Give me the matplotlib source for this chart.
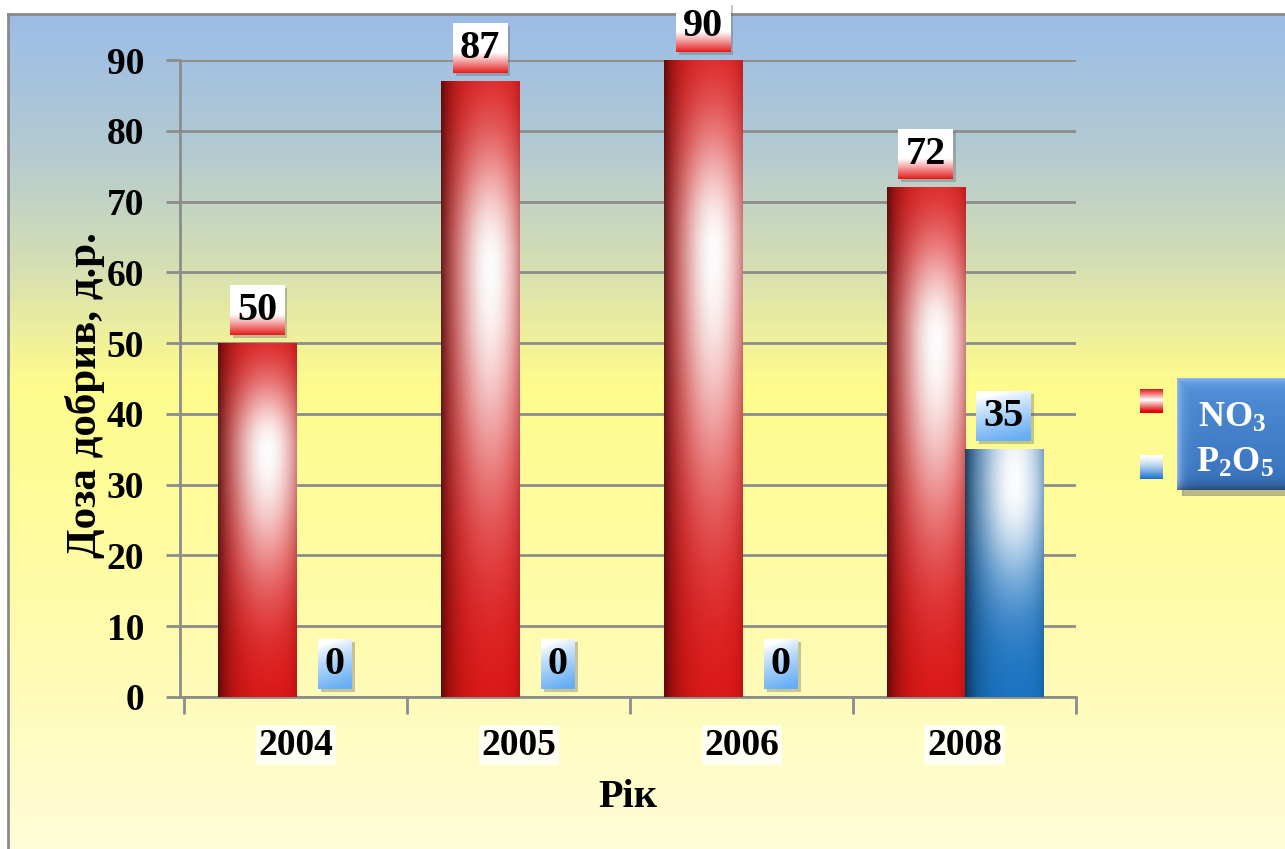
import matplotlib
matplotlib.use("Agg")
import matplotlib.pyplot as plt
import numpy as np
from matplotlib.colors import LinearSegmentedColormap
from matplotlib.patches import Rectangle

plt.rcParams['font.family'] = ['Liberation Serif', 'DejaVu Serif']
plt.rcParams['font.weight'] = 'bold'
plt.rcParams['axes.labelweight'] = 'bold'
plt.rcParams['mathtext.fontset'] = 'custom'
plt.rcParams['mathtext.rm'] = 'Liberation Serif:bold'
plt.rcParams['mathtext.bf'] = 'Liberation Serif:bold'
plt.rcParams['mathtext.it'] = 'Liberation Serif:bold'

years = ['2004', '2005', '2006', '2008']
no3 = [50, 87, 90, 72]
p2o5 = [0, 0, 0, 35]
series_names = [r'$\mathrm{NO_3}$', r'$\mathrm{P_2O_5}$']
y_label = 'Доза добрив, д.р.'
x_label = 'Рік'

W, H = 1285, 849
fig = plt.figure(figsize=(W / 100, H / 100), dpi=100)


# ---- background panel with vertical gradient ----
bg = fig.add_axes([8 / W, -0.01, 1.0, 1 - 14 / H + 0.01], zorder=0)
bg_cmap = LinearSegmentedColormap.from_list('bg', [
    (0.0, '#9bbce6'), (0.16, '#b3cad2'), (0.30, '#d6dfb2'),
    (0.44, '#fffc8c'), (0.70, '#fefba9'), (1.0, '#fefdd8')])
bg.imshow(np.linspace(0, 1, 256).reshape(-1, 1), cmap=bg_cmap,
          aspect='auto', extent=(0, 1, 0, 1))
bg.set_xticks([])
bg.set_yticks([])
for s in bg.spines.values():
    s.set_color('#8a8a8a')
    s.set_linewidth(2)


def cylinder(kind, nx=80, ny=300):
    u = np.linspace(0, 1, nx)[None, :]
    v = np.linspace(1, 0, ny)[:, None]
    if kind == 'red':
        base = np.array([0.86, 0.07, 0.07])
        gv, lo, hi = 0.70, 0.38, 0.21
    else:
        base = np.array([0.10, 0.45, 0.76])
        gv, lo, hi = 0.86, 0.42, 0.60
    wv = np.where(v < gv, np.exp(-((v - gv) / lo) ** 2),
                  np.exp(-((v - gv) / hi) ** 2))
    wh = np.exp(-((u - 0.62) / 0.5) ** 2)
    w = (wv * wh)[..., None]
    col = base * (1 - w) + w
    shade = 1 - 0.55 * np.exp(-u / 0.15) - 0.15 * np.exp(-(1 - u) / 0.07)
    col = col * shade[..., None]
    return np.clip(col, 0, 1)


def label_box(kind, nx=40, ny=60):
    u = np.linspace(0, 1, nx)[None, :]
    v = np.linspace(1, 0, ny)[:, None]
    if kind == 'red':
        tip = np.array([0.90, 0.12, 0.12])
        t = np.clip((0.42 - v) / 0.42, 0, 1) ** 1.1 + 0 * u
    else:
        tip = np.array([0.40, 0.68, 0.96])
        t = np.clip(1.1 - v - 0.25 * (1 - u), 0, 1) ** 0.8
    t = t[..., None]
    return np.clip((1 - t) + t * tip, 0, 1)


# ---- main chart ----
ax = fig.add_axes([180 / W, 1 - 697 / H, 896 / W, 637 / H], zorder=2)
ax.patch.set_visible(False)
x = np.arange(len(years))
bw = 0.35
bars_no3 = ax.bar(x - bw / 2, no3, bw, color='none', zorder=3)
bars_p2o5 = ax.bar(x + bw / 2, p2o5, bw, color='none', zorder=3)
ax.set_xlim(-0.52, 3.5)
ax.set_ylim(0, 90)

for bars, kind in ((bars_no3, 'red'), (bars_p2o5, 'blue')):
    for b in bars:
        if b.get_height() > 0:
            ax.imshow(cylinder(kind), aspect='auto', zorder=3,
                      extent=(b.get_x(), b.get_x() + b.get_width(), 0, b.get_height()))

ax.set_yticks(np.arange(0, 91, 10))
ax.yaxis.grid(True, color='#8c8c8c', linewidth=2)
ax.set_axisbelow(True)
ax.tick_params(axis='y', length=10, width=2, color='#8c8c8c', pad=16,
               labelsize=27)
ax.set_xticks(np.arange(-0.5, 3.6, 1))
ax.set_xticklabels([])
ax.set_xticks(x, minor=True)
ax.set_xticklabels(years, minor=True)
ax.tick_params(axis='x', which='major', length=12, width=2, color='#8c8c8c')
ax.tick_params(axis='x', which='minor', length=0, pad=22, labelsize=27)
for lab in ax.get_xticklabels(minor=True):
    lab.set_bbox(dict(facecolor='#fefef2', edgecolor='none', pad=2))
for side in ('top', 'right'):
    ax.spines[side].set_visible(False)
for side in ('left', 'bottom'):
    ax.spines[side].set_color('#8c8c8c')
    ax.spines[side].set_linewidth(2)

ax.set_xlabel(x_label, fontsize=29, fontweight='bold', labelpad=12)
fig.text(85 / W, 1 - 395 / H, y_label, rotation=90, fontsize=31,
         fontweight='bold', ha='center', va='center')

# value labels above bars
labels = []
for bars, vals, kind in ((bars_no3, no3, 'red'), (bars_p2o5, p2o5, 'blue')):
    for b, val in zip(bars, vals):
        t = ax.annotate(str(val), (b.get_x() + b.get_width() / 2, b.get_height()),
                        xytext=(0, 33), textcoords='offset pixels',
                        ha='center', va='center', fontsize=29, zorder=7,
                        annotation_clip=False)
        labels.append((t, b, kind))

fig.canvas.draw()
inv = ax.transData.inverted()
for t, b, kind in labels:
    bb = t.get_window_extent()
    cx = (bb.x0 + bb.x1) / 2
    top_px = ax.transData.transform((0, b.get_height()))[1]
    cy = top_px + 33
    hw = bb.width / 2 + 7
    (x0, y0), (x1, y1) = inv.transform([(cx - hw, cy - 25), (cx + hw, cy + 25)])
    (sx0, sy0), (sx1, sy1) = inv.transform([(cx - hw + 3, cy - 28), (cx + hw + 3, cy + 22)])
    sh = Rectangle((sx0, sy0), sx1 - sx0, sy1 - sy0, facecolor='#606060',
                   alpha=0.35, edgecolor='none', zorder=5, clip_on=False)
    ax.add_patch(sh)
    im = ax.imshow(label_box(kind), aspect='auto', zorder=6,
                   extent=(x0, x1, y0, y1))
    im.set_clip_on(False)
ax.set_xlim(-0.52, 3.5)
ax.set_ylim(0, 90)

# ---- legend ----
for name_y, kind in ((389, 'red'), (455, 'blue')):
    lax = fig.add_axes([1140 / W, 1 - (name_y + 24) / H, 23 / W, 24 / H], zorder=3)
    v = np.linspace(1, 0, 40)[:, None]
    if kind == 'red':
        t = np.abs(v - 0.55) / 0.45
        sw = (1 - t[..., None]) + t[..., None] * np.array([0.88, 0.1, 0.1])
    else:
        t = np.clip(1 - v, 0, 1) ** 1.4
        sw = (1 - t[..., None]) + t[..., None] * np.array([0.1, 0.45, 0.8])
    lax.imshow(np.clip(sw, 0, 1) * np.ones((1, 10, 1)), aspect='auto')
    lax.axis('off')

shadow = fig.add_axes([1182 / W, 1 - 496 / H, 120 / W, 112 / H], zorder=3)
shadow.axis('off')
shadow.add_patch(Rectangle((0, 0), 1, 1, transform=shadow.transAxes,
                           color='#7a7a6a', alpha=0.5))
box = fig.add_axes([1177 / W, 1 - 490 / H, 120 / W, 112 / H], zorder=4)
vv = np.linspace(1, 0, 100)[:, None]
uu = np.linspace(0, 1, 100)[None, :]
edge = np.maximum(np.exp(-(1 - vv) / 0.04), np.exp(-uu / 0.04))
dark = np.exp(-vv / 0.05)
c_top = np.array([0.32, 0.56, 0.84])
c_bot = np.array([0.22, 0.45, 0.74])
col = c_top * vv[..., None] + c_bot * (1 - vv[..., None])
col = col + (np.array([0.55, 0.72, 0.94]) - col) * edge[..., None]
col = col * (1 - 0.35 * dark[..., None])
box.imshow(np.clip(col, 0, 1), aspect='auto')
box.axis('off')

fig.text(1198 / W, 1 - 418 / H, series_names[0], color='white', fontsize=26,
         ha='left', va='center', zorder=5)
fig.text(1196 / W, 1 - 463 / H, series_names[1], color='white', fontsize=26,
         ha='left', va='center', zorder=5)

fig.savefig('out.png', dpi=100)
